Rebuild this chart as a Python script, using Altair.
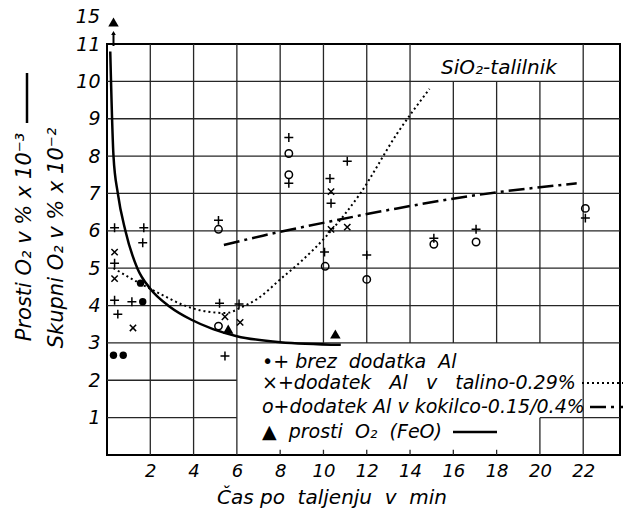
import altair as alt
import pandas as pd

# ---------------- data ----------------
# "+" markers (skupni O2)
plus_x = [0.35, 1.7, 1.65, 0.35, 0.35, 0.5, 1.15, 5.2, 6.1, 5.45, 8.4, 8.4, 11.1, 10.3, 10.35, 10.05, 12.0, 5.15, 15.1, 17.05, 22.1]
plus_y = [6.08, 6.08, 5.68, 5.13, 4.14, 3.77, 4.1, 4.06, 4.04, 2.65, 8.5, 7.27, 7.86, 7.4, 6.74, 5.43, 5.35, 6.28, 5.8, 6.04, 6.34]
# "x" markers (dodatek Al v talino)
cross_x = [0.35, 0.35, 1.2, 5.45, 6.15, 10.35, 10.35, 11.1]
cross_y = [5.43, 4.72, 3.4, 3.7, 3.55, 7.05, 6.04, 6.1]
# "o" markers (dodatek Al v kokilco)
ring_x = [8.4, 8.4, 5.15, 10.08, 12.0, 15.1, 17.05, 22.1, 5.15]
ring_y = [8.07, 7.5, 6.04, 5.05, 4.7, 5.64, 5.7, 6.6, 3.45]
# filled dots (brez dodatka Al)
dot_x = [0.3, 0.75, 1.55, 1.65]
dot_y = [2.67, 2.67, 4.6, 4.1]
# triangles (prosti O2 FeO)
tri_x = [5.6, 10.55]
tri_y = [3.37, 3.24]
tri_top_x = [0.3]          # the off-scale value 15 at the top
tri_top_label = ["15"]

# curves
feo_x = [0.15, 0.3, 0.5, 0.85, 1.4, 2.0, 2.9, 3.9, 4.9, 6.0, 8.0, 10.8]
feo_y = [10.8, 8.0, 7.0, 6.0, 5.0, 4.45, 3.97, 3.62, 3.37, 3.18, 3.02, 2.95]
talino_x = [0.3, 1.5, 2.5, 3.5, 4.5, 5.5, 6.2, 7.0, 8.0, 9.0, 10.2, 11.7, 13.4, 14.9]
talino_y = [5.0, 4.6, 4.3, 4.02, 3.85, 3.8, 3.95, 4.2, 4.7, 5.2, 5.9, 7.0, 8.6, 9.8]
kokilca_x = [5.4, 7.2, 10.3, 13.4, 17.0, 21.7]
kokilca_y = [5.62, 5.87, 6.25, 6.6, 6.95, 7.27]

x_ticks = [2, 4, 6, 8, 10, 12, 14, 16, 18, 20, 22]
y_ticks = [1, 2, 3, 4, 5, 6, 7, 8, 9, 10, 11]
y_grid = [1, 2, 3, 4, 5, 6, 7, 8, 9, 10]

NB = "\u00a0"
legend_rows = ["\u2022+ brez" + NB * 2 + "dodatka" + NB * 2 + "Al",
               "\u00d7+dodatek" + NB * 3 + "Al" + NB * 3 + "v" + NB * 3 + "talino-0.29%",
               "o+dodatek Al v kokilco-0.15/0.4%",
               "\u25b2" + NB * 2 + "prosti" + NB * 2 + "O\u2082" + NB * 2 + "(FeO)"]

# ---------------- chart ----------------
W, H = 513, 411
FONT = "DejaVu Sans"
INK = "black"
GRID = "#262626"
XMAX, YMAX = 23.7, 11

xs = alt.Scale(domain=[0, XMAX], nice=False, zero=False)
ys = alt.Scale(domain=[0, YMAX], nice=False, zero=False)
xax = alt.Axis(values=x_ticks, grid=False, ticks=False,
               domain=False, labelFont=FONT, labelFontStyle="italic", labelFontSize=18,
               labelColor=INK, labelPadding=7, labelAngle=0, title=None)
yax = alt.Axis(values=y_ticks, grid=False, ticks=False,
               domain=False, labelFont=FONT, labelFontStyle="italic", labelFontSize=19,
               labelColor=INK, labelPadding=7, title=None)


def df(xv, yv):
    return pd.DataFrame({"x": xv, "y": yv})


def X(f="x"):
    return alt.X(f + ":Q", scale=xs, axis=xax)


def Y(f="y"):
    return alt.Y(f + ":Q", scale=ys, axis=yax)


one = pd.DataFrame({"a": [0]})

# ---- grid segments (gridlines are interrupted by the legend panel and the SiO2 label) ----
LEG_X0, LEG_X1, LEG_Y0, LEG_Y1 = 6, 20, 0.14, 3   # legend panel (data units)
LAB_X0, LAB_X1, LAB_Y0 = 14, 22, 10               # SiO2 label panel
segs = []
for gx in x_ticks:
    top = LAB_Y0 if LAB_X0 < gx < LAB_X1 else YMAX
    if LEG_X0 < gx < LEG_X1:
        segs.append((gx, gx, 0, LEG_Y0))
        segs.append((gx, gx, LEG_Y1, top))
    elif gx == LEG_X1:
        segs.append((gx, gx, 0, 1))
        segs.append((gx, gx, LEG_Y1, top))
    else:
        segs.append((gx, gx, 0, top))
for gy in y_grid:
    if gy < LEG_Y1:
        segs.append((0, LEG_X0, gy, gy))
        if gy == 1:
            segs.append((LEG_X1, XMAX, gy, gy))
    else:
        segs.append((0, XMAX, gy, gy))
grid_df = pd.DataFrame(segs, columns=["x", "x2", "y", "y2"])


def txt(s, x, y, size=17, align="left", angle=0):
    kw = dict(font=FONT, fontStyle="italic", fontSize=size, color=INK, align=align,
              baseline="middle")
    if angle:
        kw["angle"] = angle
    return alt.Chart(one).mark_text(**kw).encode(
        x=alt.value(x), y=alt.value(y), text=alt.value(s))


PLUS = "M-1,0L1,0M0,-1L0,1"
CROSS = "M-1,-1L1,1M-1,1L1,-1"

layers = []
# grid
layers.append(alt.Chart(grid_df).mark_rule(color=GRID, strokeWidth=1.3).encode(
    x=X(), x2="x2:Q", y=Y(), y2="y2:Q"))

# curves
layers.append(alt.Chart(df(feo_x, feo_y)).mark_line(color=INK, strokeWidth=2.5,
                                                     interpolate="monotone").encode(x=X(), y=Y()))
layers.append(alt.Chart(df(talino_x, talino_y)).mark_line(color=INK, strokeWidth=2,
                                                          strokeDash=[2, 3], interpolate="monotone").encode(x=X(), y=Y()))
layers.append(alt.Chart(df(kokilca_x, kokilca_y)).mark_line(color=INK, strokeWidth=2.5,
                                                            strokeDash=[16, 5, 3, 5], interpolate="monotone").encode(x=X(), y=Y()))

# markers
layers.append(alt.Chart(df(plus_x, plus_y)).mark_point(shape=PLUS, filled=False, stroke=INK,
                                                       strokeWidth=1.5, size=80, opacity=1).encode(x=X(), y=Y()))
layers.append(alt.Chart(df(cross_x, cross_y)).mark_point(shape=CROSS, filled=False, stroke=INK,
                                                         strokeWidth=1.5, size=40, opacity=1).encode(x=X(), y=Y()))
layers.append(alt.Chart(df(ring_x, ring_y)).mark_point(shape="circle", filled=False, stroke=INK,
                                                       strokeWidth=1.5, size=55, opacity=1).encode(x=X(), y=Y()))
layers.append(alt.Chart(df(dot_x, dot_y)).mark_point(shape="circle", filled=True, color=INK,
                                                     size=55, opacity=1).encode(x=X(), y=Y()))
layers.append(alt.Chart(df(tri_x, tri_y)).mark_point(shape="triangle-up", filled=True, color=INK,
                                                     size=110, opacity=1).encode(x=X(), y=Y()))
# off-scale value at the top (broken axis)
top_df = pd.DataFrame({"x": tri_top_x, "label": tri_top_label})
layers.append(alt.Chart(top_df).mark_point(shape="triangle-up", filled=True, color=INK,
                                           size=110, opacity=1).encode(x=X(), y=alt.value(-22)))
layers.append(alt.Chart(top_df).mark_rule(color=INK, strokeWidth=2).encode(
    x=X(), y=alt.value(2), y2=alt.value(-11)))
layers.append(alt.Chart(top_df).mark_point(shape="triangle-up", filled=True, color=INK,
                                           size=22, opacity=1).encode(x=X(), y=alt.value(-11)))
layers.append(alt.Chart(top_df).mark_text(font=FONT, fontStyle="italic", fontSize=19, color=INK,
                                          align="right", baseline="middle").encode(
    x=alt.value(-7), y=alt.value(-27), text="label:N"))

# SiO2 label
layers.append(txt("SiO\u2082-talilnik", 392, 24, size=20, align="center"))

# legend
rows_y = [318, 339, 363, 388]
for s, yy in zip(legend_rows, rows_y):
    layers.append(txt(s, 155, yy, size=19))
layers.append(alt.Chart(one).mark_rule(color=INK, strokeWidth=2, strokeDash=[2, 3]).encode(
    x=alt.value(475), x2=alt.value(516), y=alt.value(339)))
layers.append(alt.Chart(one).mark_rule(color=INK, strokeWidth=2.5, strokeDash=[16, 5, 3, 5]).encode(
    x=alt.value(483), x2=alt.value(516), y=alt.value(363)))
layers.append(alt.Chart(one).mark_rule(color=INK, strokeWidth=2.5).encode(
    x=alt.value(346), x2=alt.value(390), y=alt.value(388)))

# axis titles
layers.append(txt("Prosti O\u2082 v % x 10\u207b\u00b3", -82, 193, size=21, align="center", angle=270))
layers.append(alt.Chart(one).mark_rule(color=INK, strokeWidth=2.5).encode(
    x=alt.value(-80), y=alt.value(29), y2=alt.value(79)))
layers.append(txt("Skupni O\u2082 v % x 10\u207b\u00b2", -50, 194, size=21, align="center", angle=270))
layers.append(txt("\u010cas po" + NB * 2 + "taljenju" + NB * 2 + "v" + NB * 2 + "min", 225, 454,
                  size=20, align="center"))

chart = alt.layer(*layers).properties(
    width=W, height=H,
    autosize=alt.AutoSizeParams(type="none"),
    padding={"left": 107, "top": 44, "right": 3, "bottom": 56},
    background="white",
).configure_view(stroke="black", strokeWidth=2)

chart.save("out.html", embed_options={"renderer": "svg", "actions": False})
